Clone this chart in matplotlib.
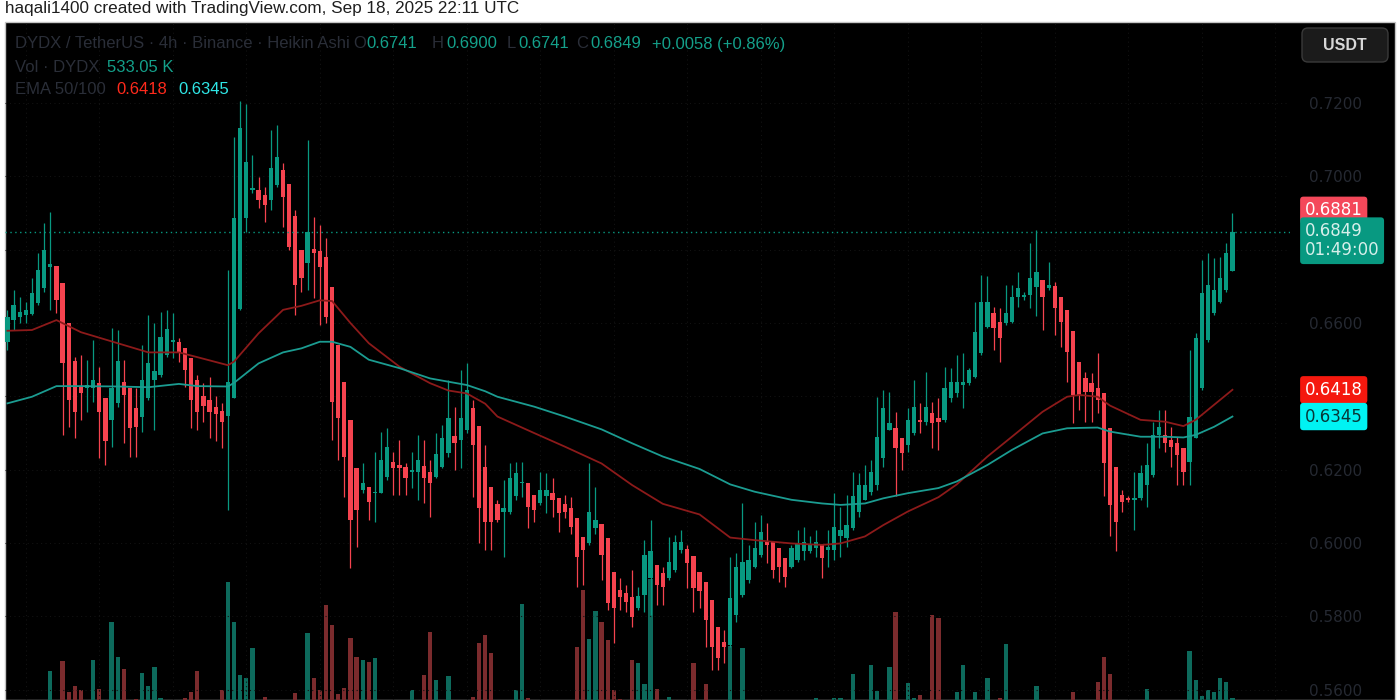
import matplotlib.pyplot as plt
import matplotlib.transforms as mtransforms
from matplotlib.patches import Rectangle, FancyBboxPatch

# DYDX / TetherUS, 4h, Heikin Ashi candles, oldest first
opens = [
    .6549, .6608, .6617, .6622, .6626, .6656, .6695, .6752, .6756, .6708,
    .6599, .6497, .6426, .6422, .6422, .6436, .6395, .6336, .6381, .6440,
    .6422, .6367, .6345, .6395, .6445, .6458, .6513, .6549, .6547, .6533,
    .6504, .6446, .6401, .6390, .6372, .6361, .6347, .6395, .6637, .6886,
    .6963, .6963, .6949, .6936, .6976, .7017, .6979, .6892, .6799, .6763,
    .6801, .6797, .6779, .6699, .6540, .6440, .6335, .6204, .6145, .6154,
    .6136, .6136, .6181, .6220, .6213, .6208, .6195, .6195, .6210, .6195,
    .6181, .6208, .6245, .6292, .6281, .6308, .6368, .6318, .6208, .6154,
    .6107, .6085, .6085, .6127, .6163, .6163, .6131, .6108, .6127, .6136,
    .6122, .6107, .6095, .6067, .6017, .5999, .6040, .6052, .6013, .5922,
    .5872, .5863, .5854, .5822, .5858, .5904, .5940, .5917, .5904, .5926,
    .5981, .5985, .5965, .5922, .5895, .5845, .5772, .5731, .5722, .5804,
    .5858, .5899, .5936, .5968, .6004, .6004, .5986, .5958, .5936, .5954,
    .5977, .5977, .5986, .5995, .5981, .5981, .6018, .6013, .6040, .6086,
    .6117, .6140, .6158, .6231, .6308, .6313, .6286, .6268, .6299, .6336,
    .6331, .6354, .6340, .6336, .6395, .6408, .6431, .6436, .6454, .6517,
    .6590, .6627, .6604, .6599, .6604, .6672, .6672, .6677, .6699, .6718,
    .6695, .6701, .6672, .6636, .6577, .6495, .6449, .6436, .6422, .6408,
    .6313, .6208, .6131, .6122, .6117, .6122, .6158, .6186, .6295, .6295,
    .6281, .6272, .6258, .6222, .6286, .6422, .6554, .6627, .6658, .6690,
    .6741,
]
highs = [
    .6636, .6690, .6672, .6658, .6722, .6790, .6872, .6904, .6756, .6708,
    .6599, .6508, .6513, .6499, .6554, .6481, .6395, .6586, .6581, .6499,
    .6422, .6422, .6540, .6622, .6599, .6631, .6636, .6627, .6558, .6533,
    .6504, .6458, .6436, .6454, .6401, .6381, .6745, .7108, .7205, .7197,
    .7058, .6999, .6972, .7126, .7140, .7036, .6979, .6908, .6799, .7099,
    .6890, .6867, .6831, .6699, .6540, .6440, .6335, .6204, .6217, .6154,
    .6249, .6304, .6313, .6249, .6281, .6217, .6249, .6295, .6281, .6226,
    .6299, .6322, .6445, .6372, .6472, .6490, .6390, .6318, .6267, .6154,
    .6117, .6172, .6217, .6222, .6222, .6163, .6131, .6195, .6190, .6177,
    .6122, .6131, .6126, .6067, .6017, .6217, .6154, .6052, .6013, .5922,
    .5904, .5886, .5927, .5881, .6008, .6063, .5940, .5936, .6017, .6022,
    .6036, .5995, .5965, .5922, .5895, .5845, .5772, .5763, .5963, .5972,
    .6108, .5995, .6058, .6077, .6054, .6004, .5986, .5958, .5995, .6036,
    .6045, .6018, .6036, .5995, .6036, .6136, .6099, .6131, .6195, .6190,
    .6213, .6227, .6399, .6417, .6413, .6358, .6286, .6367, .6445, .6381,
    .6467, .6386, .6395, .6481, .6477, .6513, .6517, .6477, .6658, .6731,
    .6727, .6645, .6640, .6704, .6704, .6740, .6686, .6817, .6854, .6718,
    .6767, .6713, .6672, .6636, .6577, .6495, .6467, .6463, .6517, .6408,
    .6313, .6208, .6145, .6127, .6195, .6213, .6272, .6331, .6363, .6363,
    .6317, .6290, .6258, .6527, .6572, .6772, .6790, .6777, .6781, .6817,
    .6900,
]
lows = [
    .6527, .6581, .6599, .6599, .6622, .6649, .6686, .6636, .6627, .6295,
    .6317, .6286, .6336, .6358, .6386, .6231, .6213, .6263, .6372, .6272,
    .6236, .6236, .6304, .6390, .6308, .6454, .6508, .6504, .6495, .6426,
    .6313, .6308, .6331, .6286, .6277, .6258, .6090, .6395, .6636, .6848,
    .6955, .6913, .6876, .6908, .6972, .6863, .6799, .6622, .6686, .6690,
    .6667, .6595, .6599, .6281, .6226, .6126, .5931, .5990, .6136, .6063,
    .6058, .6136, .6172, .6131, .6131, .6131, .6149, .6117, .6108, .6072,
    .6177, .6204, .6236, .6199, .6204, .6299, .6126, .5999, .5981, .5981,
    .6058, .5963, .6080, .6117, .6126, .6040, .6058, .6104, .6081, .6072,
    .6031, .6067, .6026, .5881, .5886, .5995, .6026, .5899, .5817, .5727,
    .5817, .5813, .5772, .5817, .5813, .5804, .5831, .5831, .5899, .5922,
    .5972, .5877, .5813, .5822, .5717, .5654, .5654, .5672, .5717, .5786,
    .5854, .5890, .5931, .5963, .5945, .5904, .5895, .5881, .5931, .5949,
    .5954, .5972, .5963, .5904, .5936, .5954, .5963, .5990, .6036, .6072,
    .6117, .6131, .6145, .6208, .6308, .6127, .6199, .6249, .6295, .6299,
    .6322, .6258, .6254, .6331, .6386, .6399, .6367, .6431, .6449, .6513,
    .6586, .6527, .6495, .6595, .6599, .6645, .6663, .6640, .6618, .6581,
    .6690, .6568, .6536, .6440, .6327, .6363, .6331, .6331, .6354, .6127,
    .6018, .5977, .6086, .6113, .6036, .6117, .6099, .6181, .6258, .6249,
    .6208, .6158, .6158, .6158, .6286, .6418, .6549, .6622, .6654, .6686,
    .6741,
]
closes = [
    .6616, .6649, .6631, .6636, .6683, .6745, .6799, .6761, .6663, .6490,
    .6390, .6358, .6408, .6431, .6445, .6358, .6277, .6422, .6497, .6404,
    .6313, .6317, .6445, .6492, .6470, .6561, .6584, .6554, .6517, .6472,
    .6390, .6358, .6374, .6358, .6352, .6331, .6440, .6886, .7131, .7040,
    .6967, .6936, .6922, .7022, .7054, .6943, .6808, .6704, .6722, .6849,
    .6790, .6754, .6617, .6386, .6340, .6236, .6063, .6090, .6163, .6113,
    .6140, .6226, .6263, .6204, .6204, .6177, .6199, .6226, .6177, .6163,
    .6243, .6286, .6340, .6272, .6340, .6418, .6268, .6095, .6058, .6058,
    .6063, .6095, .6177, .6190, .6167, .6099, .6090, .6145, .6145, .6117,
    .6081, .6085, .6045, .5963, .5981, .6086, .6063, .5967, .5836, .5822,
    .5854, .5840, .5799, .5856, .5967, .5977, .5886, .5881, .5949, .6004,
    .6004, .5945, .5877, .5868, .5790, .5717, .5686, .5717, .5849, .5936,
    .5949, .5954, .5986, .6031, .5995, .5927, .5936, .5908, .5986, .5999,
    .6004, .5995, .6004, .5958, .5990, .6045, .6036, .6049, .6127, .6158,
    .6158, .6195, .6290, .6367, .6327, .6258, .6245, .6336, .6372, .6331,
    .6372, .6327, .6331, .6422, .6440, .6440, .6440, .6472, .6576, .6658,
    .6658, .6586, .6558, .6627, .6672, .6695, .6677, .6722, .6740, .6672,
    .6704, .6640, .6604, .6522, .6404, .6404, .6413, .6413, .6390, .6217,
    .6104, .6058, .6113, .6117, .6122, .6190, .6213, .6295, .6317, .6272,
    .6263, .6240, .6195, .6345, .6558, .6681, .6704, .6690, .6722, .6790,
    .6849,
]
# volume in millions of DYDX
volumes = [
    .3, .3, .3, .3, .3, .3, .3, 2.72, .3, 3.52,
    1.04, 1.52, 1.2, .3, 3.6, 1.28, .3, 6.64, 3.84, 2.88,
    .3, .48, 2.56, 1.52, 3.04, .56, .3, .3, .3, .56,
    1.04, 2.72, .3, .3, .3, 1.2, 9.84, 6.64, 2.4, 2.16,
    4.56, .3, .64, .3, .3, .3, .3, .96, .3, 5.76,
    2.16, 1.2, 8.0, 6.4, .88, 1.36, 5.36, 3.84, 3.6, 3.44,
    3.76, .3, .3, .3, .3, .3, 1.2, .3, 2.4, 5.84,
    2.0, .3, 2.32, .3, .3, .3, .64, 4.96, 5.6, 4.16,
    .3, .3, .3, 1.2, 8.08, .56, .3, .3, .3, .3,
    .3, .3, .3, 4.64, 9.2, 5.28, 7.52, 6.64, 5.2, 1.2,
    .48, .3, 3.6, 3.36, 1.68, 10.08, 1.28, .3, .64, .3,
    .3, .3, 3.36, .3, 1.68, .3, .3, .3, 4.72, .3,
    4.56, .3, .3, .3, .3, .3, .3, .3, .3, .3,
    .3, .3, .56, .3, .3, .56, .56, .3, 2.48, .3,
    .3, 3.2, 1.12, .3, 3.04, 7.44, .3, 1.76, .56, .8,
    .3, 7.2, 6.96, .3, .3, 1.04, 3.2, .3, 1.04, .3,
    2.16, .3, .56, 4.88, .3, .3, .3, .3, 1.52, .3,
    .3, .3, .3, .3, 1.04, .3, .3, .3, 1.84, 3.84,
    2.48, .3, .3, .3, .3, .3, 1.28, .3, .3, .3,
    .3, .3, .3, 4.32, 2.0, .72, 1.2, 1.04, 2.16, 1.84,
    .533,
]

# EMA 50 / EMA 100 read at a set of candle positions
ema_idx = [0, 4, 8, 12, 18, 23, 28, 31, 36, 37, 41, 45, 48, 51, 53, 56, 59, 64,
           69, 72, 75, 78, 80, 86, 91, 97, 102, 107, 113, 118, 122, 128, 133, 136,
           140, 143, 147, 152, 155, 160, 164, 169, 173, 175, 178, 180, 185, 189,
           192, 194, 197, 200]
ema50 = [.6579, .6581, .6608, .6575, .6545, .6520, .6520, .6507, .6485, .6495,
         .6572, .6636, .6647, .6662, .6660, .6600, .6545, .6481, .6436, .6416,
         .6408, .6380, .6345, .6300, .6263, .6217, .6158, .6107, .6078, .6015,
         .6008, .5999, .5995, .5999, .6018, .6049, .6086, .6125, .6160, .6236,
         .6290, .6358, .6399, .6404, .6399, .6375, .6336, .6331, .6319, .6336,
         .6377, .6418]
ema100 = [.6381, .6399, .6428, .6428, .6427, .6425, .6434, .6428, .6427, .6437,
          .6490, .6520, .6531, .6549, .6549, .6535, .6500, .6477, .6449, .6440,
          .6431, .6414, .6399, .6372, .6345, .6310, .6272, .6236, .6202, .6160,
          .6140, .6118, .6108, .6104, .6108, .6122, .6136, .6150, .6168, .6213,
          .6254, .6299, .6313, .6314, .6315, .6304, .6290, .6290, .6288, .6295,
          .6317, .6345]

price_ticks = [0.56, 0.58, 0.60, 0.62, 0.64, 0.66, 0.68, 0.70, 0.72]
shown_ticks = [0.56, 0.58, 0.60, 0.62, 0.66, 0.70, 0.72]
last_price = 0.6849
real_price = 0.6881

UP = '#089981'
DOWN = '#f5434f'
UP_VOL = '#0d6a5c'
DOWN_VOL = '#7b2b2d'
DIM = '#2a2e38'
TEAL_TXT = '#14a08a'

W, H = 1400, 700
fig = plt.figure(figsize=(14, 7), dpi=100)
fig.patch.set_facecolor('white')

# black chart panel under the white header strip
fig.add_artist(Rectangle((5 / W, 0), 1390 / W, 678 / H, transform=fig.transFigure,
                         facecolor='black', edgecolor='#c4c4c4', lw=1, zorder=-10))

rect = [5 / W, 0, 1285 / W, 678 / H]
axv = fig.add_axes(rect, label='volume')
ax = fig.add_axes(rect, label='price')
for a in (axv, ax):
    a.set_facecolor('none')
    for s in a.spines.values():
        s.set_visible(False)

n = len(closes)
xs = list(range(n))
up = [c >= o for o, c in zip(opens, closes)]
cols = [UP if u else DOWN for u in up]
vcols = [UP_VOL if u else DOWN_VOL for u in up]

# volume overlay
axv.bar(xs, volumes, width=0.7, color=vcols, linewidth=0)
axv.set_xlim(-0.4, 209.4)
axv.set_ylim(0.4, 54.64)
axv.set_xticks([])
axv.set_yticks([])

# faint grid
ax.set_xticks(list(range(3, 210, 12)))
ax.set_yticks(price_ticks)
ax.grid(True, color='#121212', lw=0.8, ls=(0, (1, 3)))
ax.set_axisbelow(True)

# candles
ax.vlines(xs, lows, highs, colors=cols, lw=0.9)
bottoms = [min(o, c) for o, c in zip(opens, closes)]
heights = [max(abs(c - o), 0.0003) for o, c in zip(opens, closes)]
ax.bar(xs, heights, bottom=bottoms, width=0.7, color=cols, linewidth=0)

# moving averages
ax.plot(ema_idx, ema50, color='#8c1a1a', lw=1.3)
ax.plot(ema_idx, ema100, color='#1b9c91', lw=1.3)

# last price line
ax.axhline(last_price, color=UP, lw=1, ls=(0, (1, 2.5)))

ax.set_xlim(-0.4, 209.4)
ax.set_ylim(0.5572, 0.7421)
ax.yaxis.tick_right()
ax.set_yticklabels(['%.4f' % t if t in shown_ticks else '' for t in price_ticks])
ax.tick_params(axis='y', length=0, pad=14, labelsize=11, labelcolor='#252932')
ax.tick_params(axis='x', length=0, labelbottom=False)

# price labels on the scale
trans = mtransforms.blended_transform_factory(ax.transAxes, ax.transData)
lx = 1.0115
ax.annotate('%.4f' % real_price, xy=(lx, real_price), xycoords=trans,
            xytext=(0, 7), textcoords='offset points', ha='left', va='center',
            fontsize=12, color='white', annotation_clip=False,
            bbox=dict(boxstyle='round,pad=0.28,rounding_size=0.2', fc='#f4485a', ec='none'))
ax.annotate('%.4f\n01:49:00' % last_price, xy=(lx, last_price), xycoords=trans,
            xytext=(0, 7), textcoords='offset points', ha='left', va='top',
            fontsize=12, color='#d6efea', linespacing=1.1, annotation_clip=False,
            bbox=dict(boxstyle='round,pad=0.28,rounding_size=0.2', fc=UP, ec='none'))
ax.text(lx, ema50[-1], '%.4f' % ema50[-1], transform=trans, ha='left', va='center',
        fontsize=12, color='white',
        bbox=dict(boxstyle='round,pad=0.28,rounding_size=0.2', fc='#f5180e', ec='none'))
ax.text(lx, ema100[-1], '%.4f' % ema100[-1], transform=trans, ha='left', va='center',
        fontsize=12, color='#083838',
        bbox=dict(boxstyle='round,pad=0.28,rounding_size=0.2', fc='#00f3f3', ec='none'))

# currency button
ident = mtransforms.IdentityTransform()
fig.add_artist(FancyBboxPatch((1302, H - 62), 86, 34, boxstyle='round,pad=0,rounding_size=6',
                              transform=ident, fc='#1b1b1b', ec='#3a3a3a', lw=1))
fig.text(1345 / W, 1 - 45 / H, 'USDT', ha='center', va='center', fontsize=11.5,
         fontweight='bold', color='#d8d8d8', family='Liberation Sans')


def put(px, py, s, color, size=12):
    fig.text(px / W, 1 - py / H, s, ha='left', va='center', fontsize=size,
             color=color, family='Liberation Sans')


# white header strip
put(5, 9, 'haqali1400 created with TradingView.com, Sep 18, 2025 22:11 UTC', '#1e1e1e', 12.3)

# legend in the chart
put(15, 44, 'DYDX / TetherUS · 4h · Binance · Heikin Ashi', DIM, 12)
put(353, 44, 'O', DIM)
put(366, 44, '%.4f' % opens[-1], TEAL_TXT)
put(432, 44, 'H', DIM)
put(446, 44, '%.4f' % highs[-1], TEAL_TXT)
put(507, 44, 'L', DIM)
put(518, 44, '%.4f' % lows[-1], TEAL_TXT)
put(576, 44, 'C', DIM)
put(590, 44, '%.4f' % closes[-1], TEAL_TXT)
put(652, 44, '+0.0058 (+0.86%)', TEAL_TXT)
put(15, 68, 'Vol · DYDX', DIM)
put(107, 68, '533.05 K', TEAL_TXT)
put(15, 90, 'EMA 50/100', DIM)
put(116, 90, '%.4f' % ema50[-1], '#ff2a1c')
put(178, 90, '%.4f' % ema100[-1], '#2fe6e6')

fig.savefig('out.png', dpi=100, facecolor='white')
